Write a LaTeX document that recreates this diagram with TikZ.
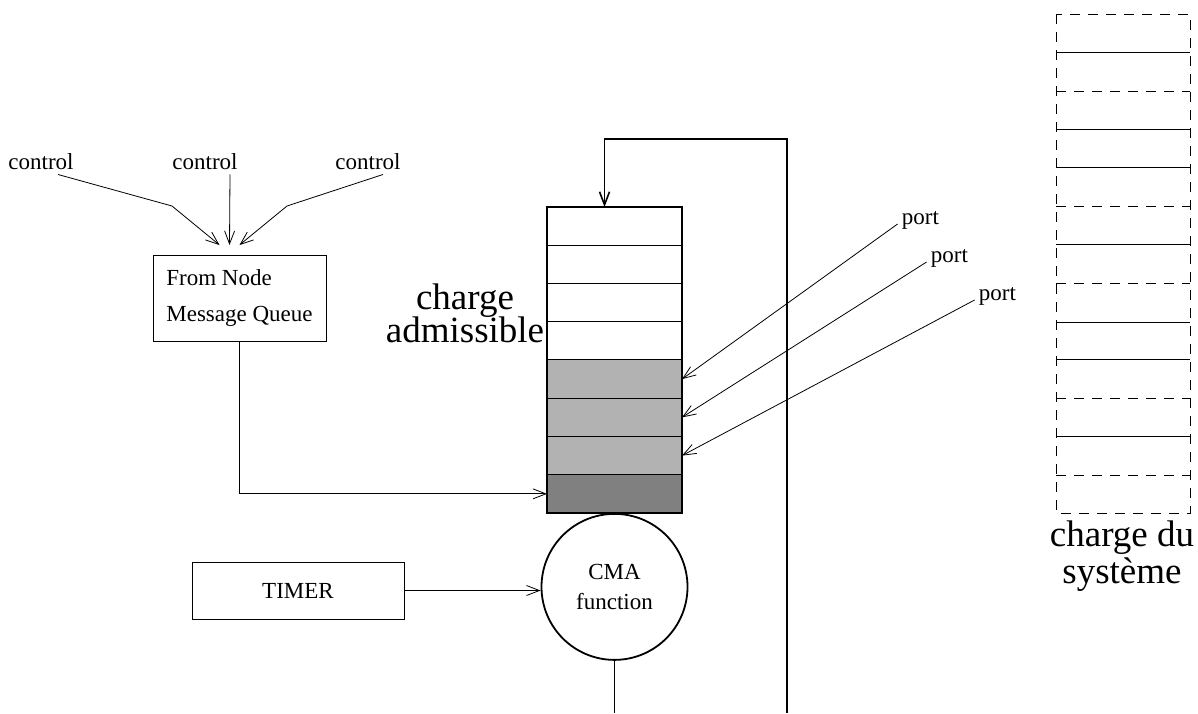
\documentclass[tikz,border=0pt]{standalone}
\usepackage{fontspec}
\setmainfont{Liberation Serif}
\usetikzlibrary{arrows.meta,positioning}
\definecolor{cellgray}{gray}{0.7}
\definecolor{celldark}{gray}{0.5}

\begin{document}
\begin{tikzpicture}[x=0.5pt,y=-0.5pt,>={Straight Barb[length=6.5pt,width=5pt]},
        every node/.style={font=\fontsize{11.5pt}{14pt}\selectfont},
        lbl/.style={inner sep=2pt},
        box/.style={draw,line width=0.5pt,inner sep=0pt,outer sep=0pt},
        cell/.style={draw,line width=0.5pt,minimum width=67.5pt,minimum height=19.125pt,inner sep=0pt,outer sep=0pt},
        big/.style={font=\fontsize{18.5pt}{18.5pt}\selectfont,align=center,inner sep=0pt},
        dashline/.style={dash pattern=on 5pt off 4pt}]
        \useasboundingbox (0,0) rectangle (1198,713);
        % stack of cells
        \node[cell] (c1) at (614.5,226.1) {};
        \foreach \i/\shade [count=\j] in {2/white,3/white,4/white,5/cellgray,6/cellgray,7/cellgray,8/celldark}
            \node[cell,fill=\shade,below=0pt of c\j] (c\i) {};
        \draw[line width=1pt] (c1.north west) rectangle (c8.south east);
        \node[circle,draw,line width=0.9pt,minimum size=73pt,inner sep=0pt,align=center,below=0pt of c8,
              font=\fontsize{11.5pt}{15pt}\selectfont] (cma) {CMA\\function};
        \node[box,minimum width=86.5pt,minimum height=43pt,align=left,
              font=\fontsize{11.5pt}{18pt}\selectfont] (queue) at (239.5,298) {From Node\\Message Queue};
        \node[box,minimum width=106pt,minimum height=28.5pt] (timer) at (298,590.5) {TIMER};
        \node[big] (admis) at (465,313) {charge\\[-2pt]admissible};
        \node[big] (syscharge) at (1122,556) {charge du\\système};
        % control inputs
        \node[lbl] (ctlA) at (41,162) {control};
        \node[lbl] (ctlB) at (205,162) {control};
        \node[lbl] (ctlC) at (368,162) {control};
        \coordinate (kinkA) at (172,206);
        \coordinate (kinkC) at (287,206);
        \draw[->] ([xshift=8.5pt]ctlA.south) -- (kinkA) -- ([xshift=-10pt,yshift=5pt]queue.north);
        \draw[->] ([xshift=12.5pt]ctlB.south) -- ([xshift=-5pt,yshift=5pt]queue.north);
        \draw[->] ([xshift=7.5pt]ctlC.south) -- (kinkC) -- ([yshift=5pt]queue.north);
        % ports
        \node[lbl] (portA) at (920.5,220) {port};
        \node[lbl] (portB) at (949.5,258) {port};
        \node[lbl] (portC) at (997.5,296) {port};
        \draw[->] ([yshift=-2pt]portA.west) -- (c5.east);
        \draw[->] ([yshift=-2pt]portB.west) -- (c6.east);
        \draw[->] ([yshift=-2pt]portC.west) -- (c7.east);
        \draw[->] (queue.south) |- (c8.west);
        \draw[->] (timer.east) -- (timer.east -| cma.west);
        % loop back
        \coordinate (cmaend) at (cma.south |- 0,713);
        \coordinate (loopbot) at (787,713);
        \coordinate (looptop) at (787,139);
        \draw[line width=0.8pt] (cma.south) -- (cmaend);
        \draw[line width=0.8pt,->] (loopbot) -- (looptop) -| ([xshift=-5pt]c1.north);
        % system load column
        \draw[dashline,line width=0.5pt] (1056,14) rectangle (1190,513);
        \foreach \y/\sty in {52/solid,91/dashline,129/solid,167/solid,206/dashline,244/solid,
                            283/dashline,322/solid,359/solid,398/dashline,436/solid,475/dashline}
            \draw[\sty,line width=0.5pt] (1056,\y) -- (1190,\y);
\end{tikzpicture}
\end{document}
